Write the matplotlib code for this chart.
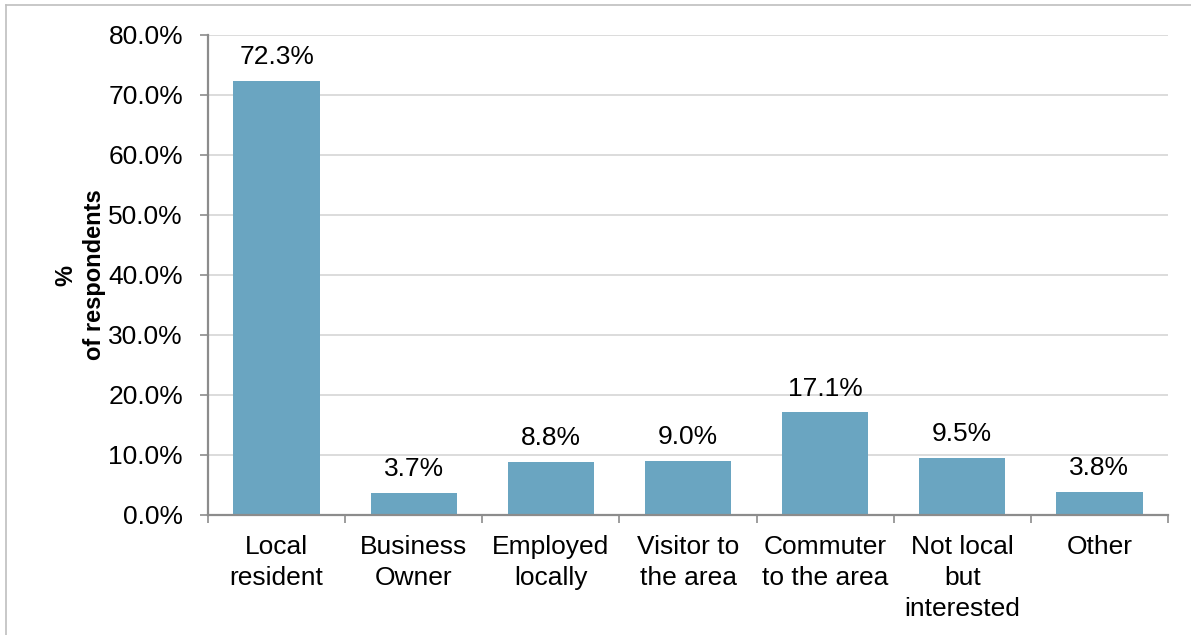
import matplotlib
matplotlib.use("Agg")
import matplotlib.pyplot as plt
from matplotlib.lines import Line2D
from matplotlib.ticker import FuncFormatter, FixedLocator, NullFormatter

plt.rcParams['font.family'] = ['Liberation Sans', 'DejaVu Sans']

categories = ["Local\nresident", "Business\nOwner", "Employed\nlocally",
              "Visitor to\nthe area", "Commuter\nto the area",
              "Not local\nbut\ninterested", "Other"]
values = [72.3, 3.7, 8.8, 9.0, 17.1, 9.5, 3.8]
y_ticks = [0, 10, 20, 30, 40, 50, 60, 70, 80]

bar_color = "#6aa5c1"
axis_color = "#8c8c8c"
grid_color = "#d9d9d9"
text_size = 19

W, H = 1191, 635
fig = plt.figure(figsize=(W / 100, H / 100), dpi=100)
ax = fig.add_axes([208 / W, 1 - 515 / H, (1168 - 208) / W, (515 - 35) / H])

x = list(range(len(categories)))
ax.bar(x, values, width=0.63, color=bar_color, zorder=2)

for xi, v in zip(x, values):
    ax.annotate(f"{v:.1f}%", (xi, v), xytext=(0, 8.5), textcoords="offset points",
                ha="center", va="bottom", fontsize=text_size, color="#000000")

ax.set_xlim(-0.5, len(categories) - 0.5)
ax.set_ylim(0, 80)
ax.set_yticks(y_ticks)
ax.yaxis.set_major_formatter(FuncFormatter(lambda v, _: f"{v:.1f}%"))
ax.yaxis.grid(True, color=grid_color, linewidth=1.3, zorder=0)
ax.set_axisbelow(True)

# category labels centred, tick marks at the category boundaries
ax.xaxis.set_major_locator(FixedLocator([i - 0.5 for i in range(len(categories) + 1)]))
ax.xaxis.set_major_formatter(NullFormatter())
for xi, lab in zip(x, categories):
    ax.text(xi, -0.041, lab, transform=ax.get_xaxis_transform(), ha="center", va="top",
            fontsize=text_size, linespacing=1.38)

ax.tick_params(axis="x", length=6, width=1.2, color=axis_color, direction="out")
ax.tick_params(axis="y", length=6, width=1.2, color=axis_color, direction="out",
               labelsize=text_size, pad=12)

for side in ("top", "right"):
    ax.spines[side].set_visible(False)
for side in ("left", "bottom"):
    ax.spines[side].set_color(axis_color)
    ax.spines[side].set_linewidth(1.6)

ax.set_ylabel("%\nof respondents", fontsize=17, fontweight="bold", linespacing=1.35)
ax.yaxis.set_label_coords(-0.106, 0.5)

# outer chart frame (left and top edges)
fig.add_artist(Line2D([6 / W, 6 / W], [0, 1 - 5 / H], color="#bfbfbf", linewidth=1.2,
                      transform=fig.transFigure))
fig.add_artist(Line2D([6 / W, 1], [1 - 5 / H, 1 - 5 / H], color="#bfbfbf", linewidth=1.2,
                      transform=fig.transFigure))

fig.savefig("out.png", dpi=100, facecolor="white")
